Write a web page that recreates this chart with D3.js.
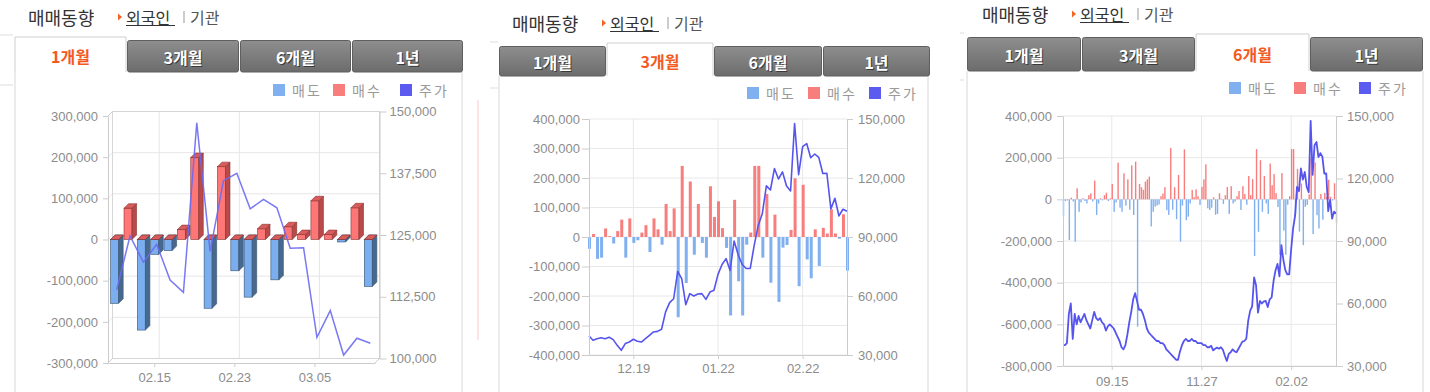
<!DOCTYPE html>
<html>
<head>
<meta charset="utf-8">
<script src="https://cdn.jsdelivr.net/npm/d3@7"></script>
<style>
  body { margin: 0; background: #fff; }
  svg { display: block; }
</style>
</head>
<body>
<svg id="chart" width="1430" height="392"></svg>
<script>
// trading days, Aug 2023 - Mar 2024
const monthDays = [
  ["08", [10, 11, 14, 16, 17, 18, 21, 22, 23, 24, 25, 28, 29, 30, 31]],
  ["09", [1, 4, 5, 6, 7, 8, 11, 12, 13, 14, 15, 18, 19, 20, 21, 22, 25, 26, 27]],
  ["10", [4, 5, 6, 10, 11, 12, 13, 16, 17, 18, 19, 20, 23, 24, 25, 26, 27, 30, 31]],
  ["11", [1, 2, 3, 6, 7, 8, 9, 10, 13, 14, 15, 16, 17, 20, 21, 22, 23, 24, 27, 28, 29, 30]],
  ["12", [1, 4, 5, 6, 7, 8, 11, 12, 13, 14, 15, 18, 19, 20, 21, 22, 26, 27, 28]],
  ["01", [2, 3, 4, 5, 8, 9, 10, 11, 12, 15, 16, 17, 18, 19, 22, 23, 24, 25, 26, 29, 30, 31]],
  ["02", [1, 2, 5, 6, 7, 8, 13, 14, 15, 16, 19, 20, 21, 22, 23, 26, 27, 28, 29]],
  ["03", [4, 5, 6, 7, 8, 11]]
];
const dates = monthDays.flatMap(([m, days]) => days.map(d => m + "." + String(d).padStart(2, "0")));

// foreign net buying (+ 매수 / - 매도), shares
const netFlow = [
  -83000, -8000, -5000, -195000, 8000, -10000, -203000, 53000, -60000, -15000,
  5000, -8000, -20000, 20000, 28000, -10000, 90000, -75000, -20000, 5000,
  -5000, 20000, 32000, -8000, 5000, 74000, -60000, -15000, 176000, -40000,
  -60000, 125000, -30000, 96000, -50000, 163000, -75000, 181000, -611000, 74000,
  58000, 46000, 85000, 96000, 109000, -130000, -60000, -35000, -30000, -25000,
  15000, 28000, 58000, -52000, -75000, 246000, -50000, 58000, -95000, 117000,
  -203000, -30000, 240000, -100000, -83000, -20000, 45000, 10000, 48000, 15000,
  -27000, 60000, 96000, 168000, -43000, -51000,
  -40000, 10000, -74000, -70000, 29000, 3000, -22000, 20000, 59000, -70000,
  63000, -20000, -11000, 15000, 40000, -51000, 63000, 26000, -26000, 112000,
  20000, 97000, -272000, 241000, -156000, 188000, -60000, 112000, -20000, -70000,
  172000, 68000, 121000, 30000, -37000, -266000, 126000, -150000, -266000, -26000,
  15000, 241000, 241000, -70000, 146000,
  -155000, 76000, -220000, -36000, -27000, 24000, 199000, -167000, 177000, -76000,
  -140000, 26000, -98000, 31000, 12000, 94000, 12000, -6000, 77000, -114000
];

// closing price (주가)
const price = [
  40000, 40000, 41000, 55000, 60000, 43000, 55000, 50000, 54000, 51000,
  53000, 55000, 52000, 50000, 48000, 52000, 56000, 53000, 52000, 53000,
  51000, 50000, 47000, 49000, 50000, 49000, 48000, 46000, 44000, 42000,
  39000, 38000, 40000, 45000, 51000, 56000, 62000, 65000, 61000, 57000,
  57000, 55000, 52000, 48000, 46000, 45000, 44000, 43000, 42000, 42000,
  41000, 41000, 40000, 38000, 37000, 36000, 35000, 34000, 33000, 33000,
  37000, 40000, 42000, 43000, 42000, 42000, 43000, 42000, 42000, 41000,
  41000, 41000, 40000, 40000, 39000, 39000,
  39700, 37500, 38300, 38800, 38300, 39000, 37800, 34900, 32400, 35800,
  36600, 38000, 37000, 36600, 38300, 40000, 41700, 42000, 43100, 51900,
  56600, 58600, 72500, 68800, 55600, 61200, 60000, 61000, 61200, 58300,
  62000, 62900, 71000, 76000, 79000, 73000, 88000, 81000, 76000, 74000,
  74000, 86000, 96000, 102000, 116000,
  113900, 124800, 119500, 123100, 115900, 113400, 147700, 121700, 136000, 137500,
  130300, 132200, 130500, 122300, 122400, 104300, 109700, 100700, 104100, 103100
];

const tabLabels = ["1개월", "3개월", "6개월", "1년"];
const legendLabels = ["매도", "매수", "주가"];

const leftTicks1 = [-300000, -200000, -100000, 0, 100000, 200000, 300000];
const rightTicks1 = [100000, 112500, 125000, 137500, 150000];
const xTicks1 = ["02.15", "02.23", "03.05"];

const leftTicks2 = [-400000, -300000, -200000, -100000, 0, 100000, 200000, 300000, 400000];
const rightTicks2 = [30000, 60000, 90000, 120000, 150000];
const xTicks2 = ["12.19", "01.22", "02.22"];

const leftTicks3 = [-800000, -600000, -400000, -200000, 0, 200000, 400000];
const rightTicks3 = [30000, 60000, 90000, 120000, 150000];
const xTicks3 = ["09.15", "11.27", "02.02"];

const rows = dates.map((d, i) => ({ date: d, net: netFlow[i], price: price[i] }));

const FONT_KR = "'Noto Sans CJK KR', 'Noto Sans', sans-serif";
const FONT_NUM = "'Liberation Sans', Arial, sans-serif";
const C_SELL = "#80b0ef", C_BUY = "#f87d7d", C_PRICE = "#5b5bf0";
const fmt = d3.formatLocale({ decimal: ".", thousands: ",", grouping: [3], currency: ["", ""], minus: "-" }).format(",");

const svg = d3.select("#chart");
const defs = svg.append("defs");
const grad = defs.append("linearGradient").attr("id", "tabGrad").attr("x1", 0).attr("y1", 0).attr("x2", 0).attr("y2", 1);
grad.append("stop").attr("offset", "0%").attr("stop-color", "#8e8e8e");
grad.append("stop").attr("offset", "100%").attr("stop-color", "#6c6c6c");

function header(p) {
  const g = svg.append("g");
  const y = p.titleY;
  g.append("text").attr("x", p.titleX).attr("y", y).attr("dominant-baseline", "central")
    .attr("font-family", FONT_KR).attr("font-size", 18).attr("fill", "#333").text("매매동향");
  const tx = p.titleX + 90;
  g.append("path").attr("d", `M${tx},${y - 3.5}L${tx + 4},${y}L${tx},${y + 3.5}Z`).attr("fill", "#f26522");
  g.append("text").attr("x", tx + 8).attr("y", y).attr("dominant-baseline", "central")
    .attr("font-family", FONT_KR).attr("font-size", 16).attr("fill", "#333").text("외국인");
  g.append("line").attr("x1", tx + 8).attr("x2", tx + 57).attr("y1", y + 8.5).attr("y2", y + 8.5)
    .attr("stroke", "#333").attr("stroke-width", 1);
  g.append("line").attr("x1", tx + 66).attr("x2", tx + 66).attr("y1", y - 6).attr("y2", y + 6)
    .attr("stroke", "#999");
  g.append("text").attr("x", tx + 72).attr("y", y).attr("dominant-baseline", "central")
    .attr("font-family", FONT_KR).attr("font-size", 16).attr("fill", "#555").text("기관");
}

function tabs(p) {
  const g = svg.append("g");
  // box sides
  g.append("line").attr("x1", p.box[0]).attr("x2", p.box[0]).attr("y1", p.tabBottom).attr("y2", 392).attr("stroke", "#d8d8d8");
  g.append("line").attr("x1", p.box[1]).attr("x2", p.box[1]).attr("y1", p.tabBottom).attr("y2", 392).attr("stroke", "#d8d8d8");
  p.tabs.forEach(([x0, x1], i) => {
    const cx = (x0 + x1) / 2;
    if (i === p.active) {
      g.append("path").attr("d", `M${x0},${p.tabBottom}V${p.tabTop}H${x1}V${p.tabBottom}`)
        .attr("fill", "#fff").attr("stroke", "#cfcfcf");
      g.append("text").attr("x", cx).attr("y", (p.tabTop + p.tabBottom) / 2 + 1).attr("text-anchor", "middle")
        .attr("dominant-baseline", "central").attr("font-family", FONT_KR).attr("font-size", 16)
        .attr("font-weight", "bold").attr("fill", "#f25a1e").text(tabLabels[i]);
    } else {
      const top = p.tabTop + 3;
      g.append("rect").attr("x", x0 + 0.5).attr("y", top + 0.5).attr("width", x1 - x0 - 1).attr("height", p.tabBottom - top - 0.5)
        .attr("rx", 2).attr("fill", "url(#tabGrad)").attr("stroke", "#5f5f5f");
      const ty = (top + p.tabBottom) / 2 + 1;
      g.append("text").attr("x", cx + 1).attr("y", ty + 1).attr("text-anchor", "middle").attr("dominant-baseline", "central")
        .attr("font-family", FONT_KR).attr("font-size", 16).attr("font-weight", "bold").attr("fill", "#3a3a3a").text(tabLabels[i]);
      g.append("text").attr("x", cx).attr("y", ty).attr("text-anchor", "middle").attr("dominant-baseline", "central")
        .attr("font-family", FONT_KR).attr("font-size", 16).attr("font-weight", "bold").attr("fill", "#fff").text(tabLabels[i]);
    }
  });
}

function legend(p) {
  const colors = [C_SELL, C_BUY, C_PRICE];
  const g = svg.append("g");
  legendLabels.forEach((lab, i) => {
    const x = p.legendX[i];
    g.append("rect").attr("x", x).attr("y", p.legendY - 6).attr("width", 12).attr("height", 12).attr("fill", colors[i]);
    g.append("text").attr("x", x + 19).attr("y", p.legendY).attr("dominant-baseline", "central")
      .attr("font-family", FONT_KR).attr("font-size", 14).attr("letter-spacing", 2).attr("fill", "#9a9a9a").text(lab);
  });
}

function styleAxis(g) {
  g.attr("font-family", FONT_NUM).attr("font-size", 13);
  g.select(".domain").attr("stroke", "#cccccc");
  g.selectAll(".tick line").attr("stroke", "#cccccc");
  g.selectAll(".tick text").attr("fill", "#8c8c8c");
}

// 3D bar chart (1개월)
function panel3d(p, data) {
  const d = 4.5;
  const x = d3.scaleBand().domain(data.map(r => r.date)).range([p.left, p.right]).paddingInner(0.4).paddingOuter(0.2);
  const y = d3.scaleLinear().domain([-300000, 300000]).range([p.bottom, p.top]);
  const yr = d3.scaleLinear().domain([100000, 150000]).range([p.bottom - d, p.top - d]);
  const g = svg.append("g");
  const bx0 = p.left + d, bx1 = p.right + d;

  // back wall grid
  leftTicks1.forEach(t => {
    g.append("line").attr("x1", bx0).attr("x2", bx1).attr("y1", y(t) - d).attr("y2", y(t) - d).attr("stroke", "#e6e6e6");
    g.append("line").attr("x1", p.left).attr("x2", bx0).attr("y1", y(t)).attr("y2", y(t) - d).attr("stroke", "#e6e6e6");
  });
  xTicks1.forEach(t => {
    const xx = x(t) + x.bandwidth() / 2 + d;
    g.append("line").attr("x1", xx).attr("x2", xx).attr("y1", p.top - d).attr("y2", p.bottom - d).attr("stroke", "#e6e6e6");
  });
  g.append("rect").attr("x", bx0).attr("y", p.top - d).attr("width", bx1 - bx0).attr("height", p.bottom - p.top)
    .attr("fill", "none").attr("stroke", "#d6d6d6");
  g.append("path").attr("d", `M${p.left},${p.top}L${bx0},${p.top - d}M${p.left},${p.bottom}L${bx0},${p.bottom - d}M${p.right},${p.bottom}L${bx1},${p.bottom - d}`)
    .attr("stroke", "#cccccc").attr("fill", "none");

  const w = x.bandwidth();
  const faces = (x0, v) => {
    const top = Math.min(y(v), y(0)), bot = Math.max(y(v), y(0));
    return {
      front: [x0, top, w, bot - top],
      side: `M${x0 + w},${top}L${x0 + w + d},${top - d}L${x0 + w + d},${bot - d}L${x0 + w},${bot}Z`,
      top: `M${x0},${top}L${x0 + d},${top - d}L${x0 + w + d},${top - d}L${x0 + w},${top}Z`
    };
  };
  const styles = {
    sell: { front: "#7aaeee", side: "#47698f", top: "#5f8fcb", stroke: "#34506e" },
    buy: { front: "#ff7676", side: "#b84a4a", top: "#d95c5c", stroke: "#8a3131" }
  };
  const bars = g.selectAll("g.day").data(data).join("g").attr("class", "day");
  bars.each(function (r) {
    const gg = d3.select(this);
    const x0 = x(r.date);
    const parts = [];
    if (r.net < 0) parts.push(["sell", r.net]);
    parts.push(["buy", Math.max(r.net, 0)]);
    parts.forEach(([k, v]) => {
      const f = faces(x0, v), s = styles[k];
      gg.append("rect").attr("x", f.front[0]).attr("y", f.front[1]).attr("width", f.front[2]).attr("height", f.front[3])
        .attr("fill", s.front).attr("stroke", s.stroke).attr("stroke-width", 0.6);
      gg.append("path").attr("d", f.side).attr("fill", s.side).attr("stroke", s.stroke).attr("stroke-width", 0.6);
      gg.append("path").attr("d", f.top).attr("fill", s.top).attr("stroke", s.stroke).attr("stroke-width", 0.6);
    });
  });

  const line = d3.line().x(r => x(r.date) + w / 2 + 2).y(r => yr(r.price));
  g.append("path").datum(data).attr("d", line).attr("fill", "none").attr("stroke", "#6a6af2")
    .attr("stroke-width", 1.5).attr("stroke-opacity", 0.9);

  const ax = g.append("g").attr("transform", `translate(${p.left},0)`)
    .call(d3.axisLeft(y).tickValues(leftTicks1).tickFormat(fmt).tickSize(5).tickSizeOuter(0).tickPadding(5));
  styleAxis(ax);
  const ar = g.append("g").attr("transform", `translate(${bx1},0)`)
    .call(d3.axisRight(yr).tickValues(rightTicks1).tickFormat(fmt).tickSize(7).tickSizeOuter(0).tickPadding(3));
  styleAxis(ar);
  const ab = g.append("g").attr("transform", `translate(0,${p.bottom})`)
    .call(d3.axisBottom(x).tickValues(xTicks1).tickSize(4).tickSizeOuter(0));
  styleAxis(ab);
  ab.selectAll(".tick text").attr("y", p.xLabelOff).attr("dy", "0.35em");
}

// flat bar chart (3개월, 6개월)
function panelFlat(p, data) {
  const x = d3.scalePoint().domain(data.map(r => r.date)).range([p.left, p.right]);
  const y = d3.scaleLinear().domain(p.leftDomain).range([p.bottom, p.top]);
  const yr = d3.scaleLinear().domain([30000, 150000]).range([p.bottom, p.top]);
  const g = svg.append("g");

  p.leftTicks.forEach(t => {
    g.append("line").attr("x1", p.left).attr("x2", p.right).attr("y1", y(t)).attr("y2", y(t)).attr("stroke", "#e8e8e8");
  });
  p.xTicks.forEach(t => {
    g.append("line").attr("x1", x(t)).attr("x2", x(t)).attr("y1", p.top).attr("y2", p.bottom).attr("stroke", "#e8e8e8");
  });

  g.selectAll("rect.bar").data(data).join("rect").attr("class", "bar")
    .attr("x", r => x(r.date) - p.barW / 2 + 0.5)
    .attr("width", p.barW)
    .attr("y", r => Math.min(y(r.net), y(0)))
    .attr("height", r => Math.abs(y(r.net) - y(0)))
    .attr("fill", r => r.net >= 0 ? C_BUY : C_SELL);

  const line = d3.line().x(r => x(r.date)).y(r => yr(r.price));
  g.append("path").datum(data).attr("d", line).attr("fill", "none").attr("stroke", "#5555ee")
    .attr("stroke-width", p.lineW).attr("stroke-linejoin", "round");

  const ax = g.append("g").attr("transform", `translate(${p.left},0)`)
    .call(d3.axisLeft(y).tickValues(p.leftTicks).tickFormat(fmt).tickSize(p.tickL).tickSizeOuter(0).tickPadding(p.padL));
  styleAxis(ax);
  const ar = g.append("g").attr("transform", `translate(${p.right},0)`)
    .call(d3.axisRight(yr).tickValues(p.rightTicks).tickFormat(fmt).tickSize(p.tickR).tickSizeOuter(0).tickPadding(p.padR));
  styleAxis(ar);
  const ab = g.append("g").attr("transform", `translate(0,${p.bottom})`)
    .call(d3.axisBottom(x).tickValues(p.xTicks).tickSize(4).tickSizeOuter(0));
  styleAxis(ab);
  ab.selectAll(".tick text").attr("y", p.xLabelOff).attr("dy", "0.35em");
}

// faint page separators
[[0, 13, 35], [0, 13, 85], [490, 498, 42], [490, 498, 88], [960, 964, 33], [960, 964, 80]].forEach(([a, b, yy]) => {
  svg.append("line").attr("x1", a).attr("x2", b).attr("y1", yy).attr("y2", yy).attr("stroke", "#dddddd");
});
svg.append("line").attr("x1", 478).attr("x2", 478).attr("y1", 100).attr("y2", 340).attr("stroke", "#fbe4e4").attr("stroke-width", 2);

const p1 = {
  box: [15, 462], tabTop: 37, tabBottom: 72, active: 0,
  tabs: [[15, 126], [127, 239], [240, 351], [352, 463]],
  titleX: 28, titleY: 17, legendX: [273, 333, 400], legendY: 90,
  left: 108, right: 375, top: 116, bottom: 363, xLabelOff: 14
};
const p2 = {
  box: [499, 928], tabTop: 43, tabBottom: 76, active: 1,
  tabs: [[499, 606], [607, 713], [714, 822], [823, 930]],
  titleX: 512, titleY: 23, legendX: [747, 808, 869], legendY: 93,
  left: 589, right: 847, top: 119, bottom: 355, leftDomain: [-400000, 400000],
  leftTicks: leftTicks2, rightTicks: rightTicks2, xTicks: xTicks2,
  barW: 3, lineW: 1.6, tickL: 7, padL: 2, tickR: 6, padR: 5, xLabelOff: 13
};
const p3 = {
  box: [967, 1423], tabTop: 34, tabBottom: 71, active: 2,
  tabs: [[967, 1081], [1082, 1195], [1196, 1309], [1310, 1423]],
  titleX: 982, titleY: 14, legendX: [1229, 1294, 1359], legendY: 88,
  left: 1063, right: 1336, top: 116, bottom: 366, leftDomain: [-800000, 400000],
  leftTicks: leftTicks3, rightTicks: rightTicks3, xTicks: xTicks3,
  barW: 1.4, lineW: 1.8, tickL: 6, padL: 5, tickR: 7, padR: 4, xLabelOff: 15
};

[p1, p2, p3].forEach(p => { header(p); tabs(p); legend(p); });
panel3d(p1, rows.slice(-20));
panelFlat(p2, rows.slice(-65));
panelFlat(p3, rows);
</script>
</body>
</html>
